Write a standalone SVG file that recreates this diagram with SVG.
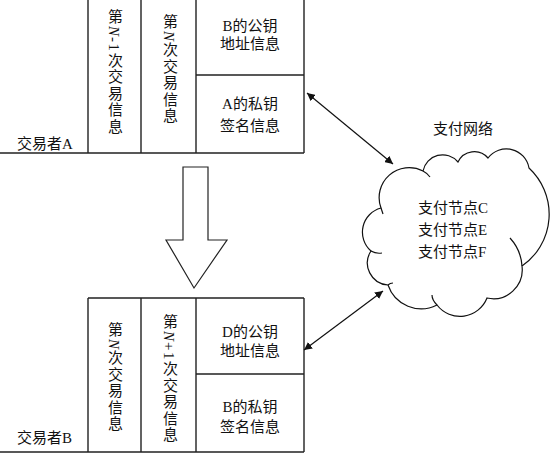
<svg xmlns="http://www.w3.org/2000/svg" width="550" height="453" viewBox="0 0 550 453">
<defs>
<style>
.ln{stroke:#222;stroke-width:1.4;fill:none}
.t{font-family:"Liberation Serif","Noto Sans CJK SC",serif;font-size:15px;fill:#111}
.c{text-anchor:middle}
.v{writing-mode:vertical-rl;letter-spacing:1.5px}
.cl{stroke:#111;stroke-width:1.2;fill:none}
.con{stroke:#111;stroke-width:1.2;fill:none;marker-start:url(#ah);marker-end:url(#ah)}
</style>
<marker id="ah" viewBox="0 0 10 10" refX="10" refY="5" markerWidth="8" markerHeight="8" markerUnits="userSpaceOnUse" orient="auto-start-reverse">
<path d="M0,0 L10,5 L0,10 z" fill="#111"/>
</marker>
</defs>

<g id="blockA">
<path class="ln" d="M0 153 H304 M88 0 V153 M141 0 V153 M196 0 V153 M304 0 V153 M196 75 H304"/>
<text class="t v" x="114" y="9">第<tspan font-style="italic">N</tspan>-1次交易信息</text>
<text class="t v" x="169" y="14">第<tspan font-style="italic">N</tspan>次交易信息</text>
<text class="t c" x="250" y="31">B的公钥</text>
<text class="t c" x="250" y="49">地址信息</text>
<text class="t c" x="250" y="109">A的私钥</text>
<text class="t c" x="250" y="131">签名信息</text>
<text class="t" x="17" y="149">交易者A</text>
</g>

<g id="transfer-arrow">
<polygon points="183,167 208,167 208,240 227,240 194,288 166,240 183,240" fill="#fff" stroke="#222" stroke-width="1.2"/>
</g>

<g id="blockB">
<path class="ln" d="M88 298 H304 M0 452 H304 M88 298 V452 M141 298 V452 M196 298 V452 M304 298 V452 M196 374 H304"/>
<text class="t v" x="114" y="322">第<tspan font-style="italic">N</tspan>次交易信息</text>
<text class="t v" x="169" y="314">第<tspan font-style="italic">N</tspan>+1次交易信息</text>
<text class="t c" x="250" y="337">D的公钥</text>
<text class="t c" x="250" y="356">地址信息</text>
<text class="t c" x="250" y="412">B的私钥</text>
<text class="t c" x="250" y="432">签名信息</text>
<text class="t" x="17" y="443">交易者B</text>
</g>

<g id="network">
<text class="t c" x="463" y="134">支付网络</text>
<path d="M371 251 A25 25 0 0 1 381 208 A30 30 0 0 1 423 171 A20 20 0 0 1 458 162 A18 18 0 0 1 488 158 A23 23 0 0 1 529 168 A63 63 0 0 1 522 266 A29 29 0 0 1 487 298 A29 29 0 0 1 437 305 A35 35 0 0 1 388 285 A22 22 0 0 1 371 251 Z" fill="#fff" stroke="#111" stroke-width="1.2"/>
<path class="cl" d="M371 251 q5 3 11 2 M381 208 q1 3 2 6 M423 171 q4 2 7 6 M510 238 Q521 250 522 266 M437 305 Q432 300 432 295 M388 285 q2 -2 5 -2"/>
<text class="t" x="418" y="213">支付节点C</text>
<text class="t" x="418" y="235">支付节点E</text>
<text class="t" x="418" y="257">支付节点F</text>
</g>

<g id="connectors">
<path class="con" d="M307 93 L393 164"/>
<path class="con" d="M304 350 L383 291"/>
</g>
</svg>
